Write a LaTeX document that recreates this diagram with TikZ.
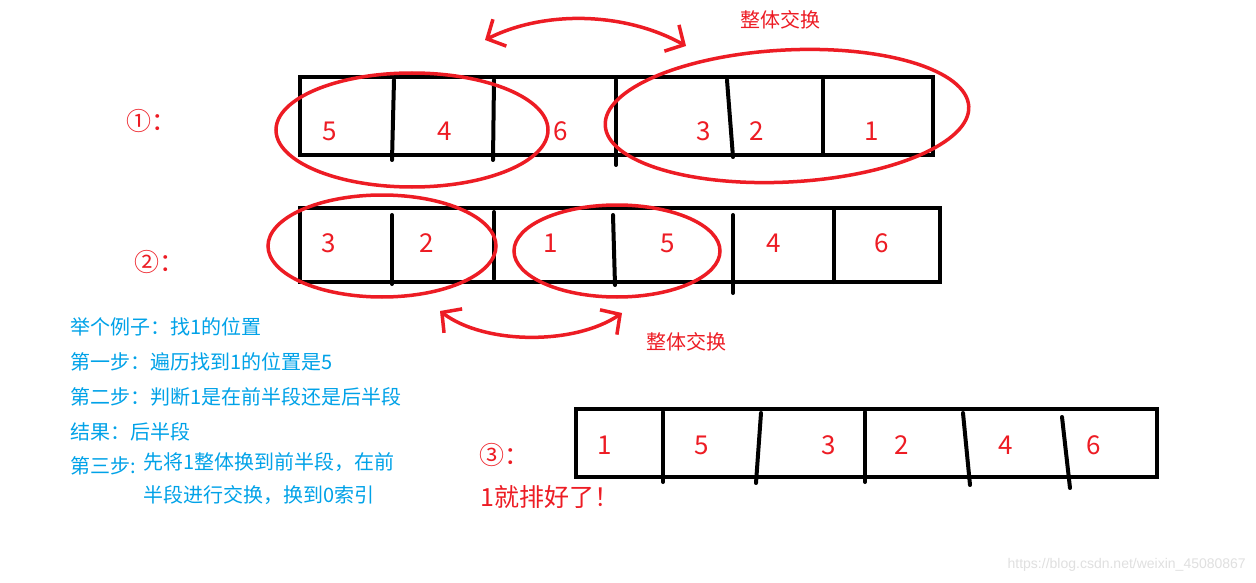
\documentclass[tikz,border=0pt]{standalone}
\usepackage{fontspec}
\newfontfamily\cjk{Noto Sans CJK SC}
\newfontfamily\wmfont{Liberation Sans}
\usetikzlibrary{arrows.meta,shapes.geometric}
\definecolor{pred}{RGB}{237,28,36}
\definecolor{pblue}{RGB}{0,162,232}
\tikzset{
  cell/.style={draw=black,line width=4pt},
  divider/.style={draw=black,line width=4pt,line cap=round},
  num/.style={text=pred,font=\cjk\fontsize{26}{28}\selectfont,inner sep=0pt},
  ring/.style={ellipse,draw=pred,line width=3.5pt,inner sep=0pt},
  swaparrow/.style={draw=pred,line width=3.5pt,line cap=round,
    {Straight Barb[length=14pt,width=30pt,line width=3.5pt]}-{Straight Barb[length=14pt,width=30pt,line width=3.5pt]}},
  redlabel/.style={text=pred,font=\cjk\fontsize{20}{22}\selectfont,inner sep=0pt,anchor=west},
  steplabel/.style={text=pred,font=\cjk\fontsize{25}{27}\selectfont,inner sep=0pt,anchor=west},
  bluetext/.style={text=pblue,font=\cjk\fontsize{20}{22}\selectfont,inner sep=0pt,anchor=west},
}
\begin{document}
\begin{tikzpicture}[x=1pt,y=-1pt]
\useasboundingbox (0,0) rectangle (1256,583);
\fill[white] (0,0) rectangle (1256,583);

% ---------- row 1 ----------
\draw[cell] (300,77) rectangle (933,155);
\draw[divider] (394,80) -- (392,160);
\draw[divider] (494,80) -- (493,160);
\draw[divider] (616,80) -- (616,165);
\draw[divider] (727,80) -- (733,157);
\draw[divider] (823,80) -- (823,155);
\node[num] (r1a) at (330,131) {5};
\node[num] (r1b) at (445,131) {4};
\node[num] (r1c) at (561,131) {6};
\node[num] (r1d) at (704,131) {3};
\node[num] (r1e) at (757,131) {2};
\node[num] (r1f) at (872,131) {1};
\node[ring,minimum width=272pt,minimum height=114pt] (e1l) at (412,130) {};
\node[ring,minimum width=364pt,minimum height=132pt,rotate=3] (e1r) at (787,116) {};
\coordinate (t1l) at (485,40);
\coordinate (t1r) at (686,46);
\draw[swaparrow] (t1l) .. controls (545,10) and (625,12) .. (t1r);
\node[redlabel] (sw1) at (740,20) {整体交换};
\node[steplabel] (lab1) at (126,121) {①：};

% ---------- row 2 ----------
\draw[cell] (300,208) rectangle (940,282);
\draw[divider] (392,215) -- (392,284);
\draw[divider] (494,212) -- (494,279);
\draw[divider] (613,215) -- (615,285);
\draw[divider] (733,215) -- (733,293);
\draw[divider] (834,210) -- (834,282);
\node[num] (r2a) at (329,243) {3};
\node[num] (r2b) at (427,243) {2};
\node[num] (r2c) at (551,243) {1};
\node[num] (r2d) at (668,243) {5};
\node[num] (r2e) at (774,243) {4};
\node[num] (r2f) at (882,243) {6};
\node[ring,minimum width=228pt,minimum height=102pt] (e2l) at (382,246) {};
\node[ring,minimum width=206pt,minimum height=92pt] (e2r) at (617,251) {};
\coordinate (t2l) at (440,311);
\coordinate (t2r) at (622,313);
\draw[swaparrow] (t2l) .. controls (485,345) and (575,345) .. (t2r);
\node[redlabel] (sw2) at (646,342) {整体交换};
\node[steplabel] (lab2) at (134,262) {②：};

% ---------- explanation ----------
\node[bluetext] (b1) at (70,327) {举个例子：找1的位置};
\node[bluetext] (b2) at (70,362) {第一步：遍历找到1的位置是5};
\node[bluetext] (b3) at (70,397) {第二步：判断1是在前半段还是后半段};
\node[bluetext] (b4) at (70,432) {结果：后半段};
\node[bluetext] (b5) at (70,466) {第三步:};
\node[bluetext] (b6) at (143,462) {先将1整体换到前半段，在前};
\node[bluetext] (b7) at (143,495) {半段进行交换，换到0索引};

% ---------- row 3 ----------
\draw[cell] (576,409) rectangle (1157,477);
\draw[divider] (663,412) -- (663,482);
\draw[divider] (761,413) -- (756,483);
\draw[divider] (865,412) -- (865,482);
\draw[divider] (963,413) -- (970,485);
\draw[divider] (1062,417) -- (1070,488);
\node[num] (r3a) at (605,445) {1};
\node[num] (r3b) at (702,445) {5};
\node[num] (r3c) at (829,445) {3};
\node[num] (r3d) at (902,445) {2};
\node[num] (r3e) at (1006,445) {4};
\node[num] (r3f) at (1094,445) {6};
\node[steplabel] (lab3) at (479,455) {③：};
\node[steplabel] (done) at (480,497) {1就排好了！};

% ---------- watermark ----------
\node[text=black!12,font=\wmfont\fontsize{14}{16}\selectfont,inner sep=0pt,anchor=east] (wm) at (1246,565) {https://blog.csdn.net/weixin\_45080867};
\end{tikzpicture}
\end{document}
